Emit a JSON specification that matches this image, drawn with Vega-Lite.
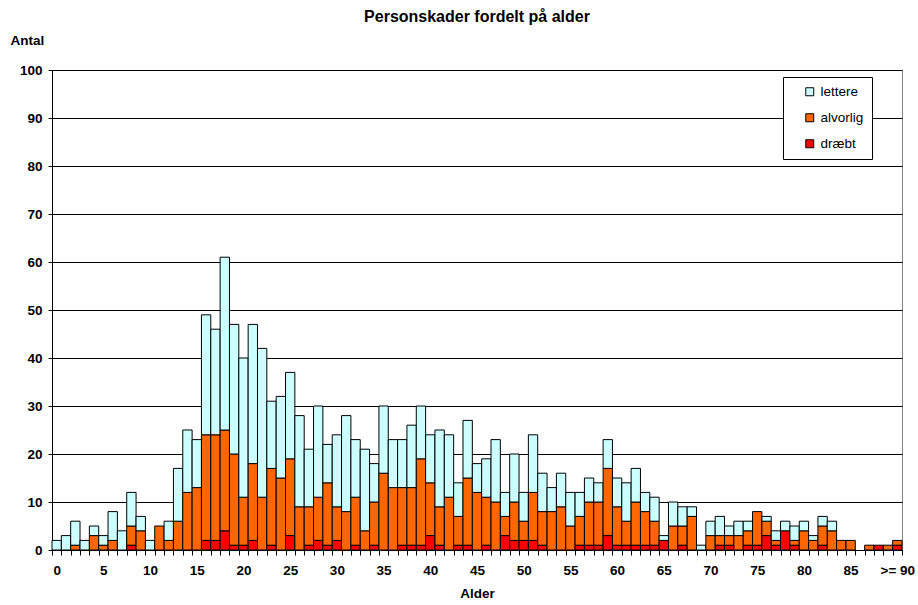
{
  "$schema": "https://vega.github.io/schema/vega-lite/v6.json",
  "autosize": {"type": "none"},
  "width": 850,
  "height": 480,
  "padding": {"left": 52, "top": 70, "right": 16, "bottom": 55},
  "background": "white",
  "title": {"text": "Personskader fordelt på alder", "fontSize": 16, "fontWeight": "bold", "font": "Liberation Sans", "anchor": "middle", "offset": 8, "color": "black"},
  "config": {
    "font": "Liberation Sans",
    "view": {"stroke": "#808080", "strokeWidth": 1},
    "axis": {"labelFont": "Liberation Sans", "titleFont": "Liberation Sans", "labelColor": "black", "titleColor": "black", "domainColor": "black", "tickColor": "black", "labelFontWeight": "bold", "titleFontWeight": "bold", "labelFontSize": 13.5, "titleFontSize": 13.5}
  },
  "data": {"values": [
    {"age": "0", "type": "lettere", "n": 2},
    {"age": "1", "type": "lettere", "n": 3},
    {"age": "2", "type": "alvorlig", "n": 1}, {"age": "2", "type": "lettere", "n": 5},
    {"age": "3", "type": "lettere", "n": 2},
    {"age": "4", "type": "alvorlig", "n": 3}, {"age": "4", "type": "lettere", "n": 2},
    {"age": "5", "type": "alvorlig", "n": 1}, {"age": "5", "type": "lettere", "n": 2},
    {"age": "6", "type": "alvorlig", "n": 2}, {"age": "6", "type": "lettere", "n": 6},
    {"age": "7", "type": "lettere", "n": 4},
    {"age": "8", "type": "dræbt", "n": 1}, {"age": "8", "type": "alvorlig", "n": 4}, {"age": "8", "type": "lettere", "n": 7},
    {"age": "9", "type": "alvorlig", "n": 4}, {"age": "9", "type": "lettere", "n": 3},
    {"age": "10", "type": "lettere", "n": 2},
    {"age": "11", "type": "alvorlig", "n": 5},
    {"age": "12", "type": "alvorlig", "n": 2}, {"age": "12", "type": "lettere", "n": 4},
    {"age": "13", "type": "alvorlig", "n": 6}, {"age": "13", "type": "lettere", "n": 11},
    {"age": "14", "type": "alvorlig", "n": 12}, {"age": "14", "type": "lettere", "n": 13},
    {"age": "15", "type": "alvorlig", "n": 13}, {"age": "15", "type": "lettere", "n": 10},
    {"age": "16", "type": "dræbt", "n": 2}, {"age": "16", "type": "alvorlig", "n": 22}, {"age": "16", "type": "lettere", "n": 25},
    {"age": "17", "type": "dræbt", "n": 2}, {"age": "17", "type": "alvorlig", "n": 22}, {"age": "17", "type": "lettere", "n": 22},
    {"age": "18", "type": "dræbt", "n": 4}, {"age": "18", "type": "alvorlig", "n": 21}, {"age": "18", "type": "lettere", "n": 36},
    {"age": "19", "type": "dræbt", "n": 1}, {"age": "19", "type": "alvorlig", "n": 19}, {"age": "19", "type": "lettere", "n": 27},
    {"age": "20", "type": "dræbt", "n": 1}, {"age": "20", "type": "alvorlig", "n": 10}, {"age": "20", "type": "lettere", "n": 29},
    {"age": "21", "type": "dræbt", "n": 2}, {"age": "21", "type": "alvorlig", "n": 16}, {"age": "21", "type": "lettere", "n": 29},
    {"age": "22", "type": "alvorlig", "n": 11}, {"age": "22", "type": "lettere", "n": 31},
    {"age": "23", "type": "dræbt", "n": 1}, {"age": "23", "type": "alvorlig", "n": 16}, {"age": "23", "type": "lettere", "n": 14},
    {"age": "24", "type": "alvorlig", "n": 15}, {"age": "24", "type": "lettere", "n": 17},
    {"age": "25", "type": "dræbt", "n": 3}, {"age": "25", "type": "alvorlig", "n": 16}, {"age": "25", "type": "lettere", "n": 18},
    {"age": "26", "type": "alvorlig", "n": 9}, {"age": "26", "type": "lettere", "n": 19},
    {"age": "27", "type": "dræbt", "n": 1}, {"age": "27", "type": "alvorlig", "n": 8}, {"age": "27", "type": "lettere", "n": 12},
    {"age": "28", "type": "dræbt", "n": 2}, {"age": "28", "type": "alvorlig", "n": 9}, {"age": "28", "type": "lettere", "n": 19},
    {"age": "29", "type": "dræbt", "n": 1}, {"age": "29", "type": "alvorlig", "n": 13}, {"age": "29", "type": "lettere", "n": 8},
    {"age": "30", "type": "dræbt", "n": 2}, {"age": "30", "type": "alvorlig", "n": 7}, {"age": "30", "type": "lettere", "n": 15},
    {"age": "31", "type": "alvorlig", "n": 8}, {"age": "31", "type": "lettere", "n": 20},
    {"age": "32", "type": "dræbt", "n": 1}, {"age": "32", "type": "alvorlig", "n": 10}, {"age": "32", "type": "lettere", "n": 12},
    {"age": "33", "type": "alvorlig", "n": 4}, {"age": "33", "type": "lettere", "n": 17},
    {"age": "34", "type": "dræbt", "n": 1}, {"age": "34", "type": "alvorlig", "n": 9}, {"age": "34", "type": "lettere", "n": 8},
    {"age": "35", "type": "alvorlig", "n": 16}, {"age": "35", "type": "lettere", "n": 14},
    {"age": "36", "type": "alvorlig", "n": 13}, {"age": "36", "type": "lettere", "n": 10},
    {"age": "37", "type": "dræbt", "n": 1}, {"age": "37", "type": "alvorlig", "n": 12}, {"age": "37", "type": "lettere", "n": 10},
    {"age": "38", "type": "dræbt", "n": 1}, {"age": "38", "type": "alvorlig", "n": 12}, {"age": "38", "type": "lettere", "n": 13},
    {"age": "39", "type": "dræbt", "n": 1}, {"age": "39", "type": "alvorlig", "n": 18}, {"age": "39", "type": "lettere", "n": 11},
    {"age": "40", "type": "dræbt", "n": 3}, {"age": "40", "type": "alvorlig", "n": 11}, {"age": "40", "type": "lettere", "n": 10},
    {"age": "41", "type": "dræbt", "n": 1}, {"age": "41", "type": "alvorlig", "n": 8}, {"age": "41", "type": "lettere", "n": 16},
    {"age": "42", "type": "alvorlig", "n": 11}, {"age": "42", "type": "lettere", "n": 13},
    {"age": "43", "type": "dræbt", "n": 1}, {"age": "43", "type": "alvorlig", "n": 6}, {"age": "43", "type": "lettere", "n": 7},
    {"age": "44", "type": "dræbt", "n": 1}, {"age": "44", "type": "alvorlig", "n": 14}, {"age": "44", "type": "lettere", "n": 12},
    {"age": "45", "type": "alvorlig", "n": 12}, {"age": "45", "type": "lettere", "n": 6},
    {"age": "46", "type": "dræbt", "n": 1}, {"age": "46", "type": "alvorlig", "n": 10}, {"age": "46", "type": "lettere", "n": 8},
    {"age": "47", "type": "alvorlig", "n": 10}, {"age": "47", "type": "lettere", "n": 13},
    {"age": "48", "type": "dræbt", "n": 3}, {"age": "48", "type": "alvorlig", "n": 4}, {"age": "48", "type": "lettere", "n": 5},
    {"age": "49", "type": "dræbt", "n": 2}, {"age": "49", "type": "alvorlig", "n": 8}, {"age": "49", "type": "lettere", "n": 10},
    {"age": "50", "type": "dræbt", "n": 2}, {"age": "50", "type": "alvorlig", "n": 4}, {"age": "50", "type": "lettere", "n": 6},
    {"age": "51", "type": "dræbt", "n": 2}, {"age": "51", "type": "alvorlig", "n": 10}, {"age": "51", "type": "lettere", "n": 12},
    {"age": "52", "type": "dræbt", "n": 1}, {"age": "52", "type": "alvorlig", "n": 7}, {"age": "52", "type": "lettere", "n": 8},
    {"age": "53", "type": "alvorlig", "n": 8}, {"age": "53", "type": "lettere", "n": 5},
    {"age": "54", "type": "alvorlig", "n": 9}, {"age": "54", "type": "lettere", "n": 7},
    {"age": "55", "type": "alvorlig", "n": 5}, {"age": "55", "type": "lettere", "n": 7},
    {"age": "56", "type": "dræbt", "n": 1}, {"age": "56", "type": "alvorlig", "n": 6}, {"age": "56", "type": "lettere", "n": 5},
    {"age": "57", "type": "dræbt", "n": 1}, {"age": "57", "type": "alvorlig", "n": 9}, {"age": "57", "type": "lettere", "n": 5},
    {"age": "58", "type": "dræbt", "n": 1}, {"age": "58", "type": "alvorlig", "n": 9}, {"age": "58", "type": "lettere", "n": 4},
    {"age": "59", "type": "dræbt", "n": 3}, {"age": "59", "type": "alvorlig", "n": 14}, {"age": "59", "type": "lettere", "n": 6},
    {"age": "60", "type": "dræbt", "n": 1}, {"age": "60", "type": "alvorlig", "n": 8}, {"age": "60", "type": "lettere", "n": 6},
    {"age": "61", "type": "dræbt", "n": 1}, {"age": "61", "type": "alvorlig", "n": 5}, {"age": "61", "type": "lettere", "n": 8},
    {"age": "62", "type": "dræbt", "n": 1}, {"age": "62", "type": "alvorlig", "n": 9}, {"age": "62", "type": "lettere", "n": 7},
    {"age": "63", "type": "dræbt", "n": 1}, {"age": "63", "type": "alvorlig", "n": 7}, {"age": "63", "type": "lettere", "n": 4},
    {"age": "64", "type": "dræbt", "n": 1}, {"age": "64", "type": "alvorlig", "n": 5}, {"age": "64", "type": "lettere", "n": 5},
    {"age": "65", "type": "dræbt", "n": 2}, {"age": "65", "type": "lettere", "n": 1},
    {"age": "66", "type": "alvorlig", "n": 5}, {"age": "66", "type": "lettere", "n": 5},
    {"age": "67", "type": "dræbt", "n": 1}, {"age": "67", "type": "alvorlig", "n": 4}, {"age": "67", "type": "lettere", "n": 4},
    {"age": "68", "type": "alvorlig", "n": 7}, {"age": "68", "type": "lettere", "n": 2},
    {"age": "69", "type": "lettere", "n": 1},
    {"age": "70", "type": "alvorlig", "n": 3}, {"age": "70", "type": "lettere", "n": 3},
    {"age": "71", "type": "dræbt", "n": 1}, {"age": "71", "type": "alvorlig", "n": 2}, {"age": "71", "type": "lettere", "n": 4},
    {"age": "72", "type": "dræbt", "n": 1}, {"age": "72", "type": "alvorlig", "n": 2}, {"age": "72", "type": "lettere", "n": 2},
    {"age": "73", "type": "alvorlig", "n": 3}, {"age": "73", "type": "lettere", "n": 3},
    {"age": "74", "type": "dræbt", "n": 1}, {"age": "74", "type": "alvorlig", "n": 3}, {"age": "74", "type": "lettere", "n": 2},
    {"age": "75", "type": "dræbt", "n": 1}, {"age": "75", "type": "alvorlig", "n": 7},
    {"age": "76", "type": "dræbt", "n": 3}, {"age": "76", "type": "alvorlig", "n": 3}, {"age": "76", "type": "lettere", "n": 1},
    {"age": "77", "type": "dræbt", "n": 1}, {"age": "77", "type": "alvorlig", "n": 1}, {"age": "77", "type": "lettere", "n": 2},
    {"age": "78", "type": "dræbt", "n": 4}, {"age": "78", "type": "lettere", "n": 2},
    {"age": "79", "type": "dræbt", "n": 1}, {"age": "79", "type": "alvorlig", "n": 1}, {"age": "79", "type": "lettere", "n": 3},
    {"age": "80", "type": "alvorlig", "n": 4}, {"age": "80", "type": "lettere", "n": 2},
    {"age": "81", "type": "alvorlig", "n": 2}, {"age": "81", "type": "lettere", "n": 1},
    {"age": "82", "type": "dræbt", "n": 1}, {"age": "82", "type": "alvorlig", "n": 4}, {"age": "82", "type": "lettere", "n": 2},
    {"age": "83", "type": "alvorlig", "n": 4}, {"age": "83", "type": "lettere", "n": 2},
    {"age": "84", "type": "alvorlig", "n": 2},
    {"age": "85", "type": "alvorlig", "n": 2},
    {"age": "87", "type": "alvorlig", "n": 1},
    {"age": "88", "type": "dræbt", "n": 1},
    {"age": "89", "type": "alvorlig", "n": 1},
    {"age": ">= 90", "type": "dræbt", "n": 1}, {"age": ">= 90", "type": "alvorlig", "n": 1}
  ]},
  "transform": [
    {"window": [{"op": "row_number", "as": "stackrank"}], "groupby": ["age"]}
  ],
  "mark": {"type": "bar", "stroke": "black", "strokeWidth": 1},
  "encoding": {
    "x": {
      "field": "age", "type": "ordinal",
      "scale": {"domain": ["0","1","2","3","4","5","6","7","8","9","10","11","12","13","14","15","16","17","18","19","20","21","22","23","24","25","26","27","28","29","30","31","32","33","34","35","36","37","38","39","40","41","42","43","44","45","46","47","48","49","50","51","52","53","54","55","56","57","58","59","60","61","62","63","64","65","66","67","68","69","70","71","72","73","74","75","76","77","78","79","80","81","82","83","84","85","86","87","88","89",">= 90"], "paddingInner": 0, "paddingOuter": 0},
      "axis": {"title": "Alder", "labelAngle": 0, "labelOverlap": false, "tickBand": "extent", "tickSize": 5, "labelPadding": 8, "titlePadding": 10, "grid": false,
        "labelExpr": "datum.value == '>= 90' || toNumber(datum.value) % 5 == 0 ? datum.value : ''"}
    },
    "y": {
      "field": "n", "type": "quantitative", "stack": "zero",
      "scale": {"domain": [0, 100], "nice": false},
      "axis": {"title": "Antal", "values": [0,10,20,30,40,50,60,70,80,90,100], "tickSize": 4, "labelPadding": 6, "grid": true, "gridColor": "black", "gridWidth": 1, "gridOpacity": 1,
        "titleAngle": 0, "titleX": -42, "titleY": -30, "titleAlign": "left", "titleBaseline": "middle"}
    },
    "color": {
      "field": "type", "type": "nominal",
      "scale": {"domain": ["lettere", "alvorlig", "dræbt"], "range": ["#CCFFFF", "#FF6600", "#FF0000"]},
      "legend": {"title": null, "orient": "none", "legendX": 731, "legendY": 7, "strokeColor": "black", "fillColor": "white", "padding": 8, "symbolOffset": 12, "symbolType": "square", "symbolSize": 64, "symbolStrokeColor": "black", "symbolStrokeWidth": 1, "labelFontSize": 13.5, "labelFont": "Liberation Sans", "labelColor": "black", "labelOffset": 4, "rowPadding": 11}
    },
    "order": {"field": "stackrank", "type": "quantitative", "sort": "ascending"}
  }
}
